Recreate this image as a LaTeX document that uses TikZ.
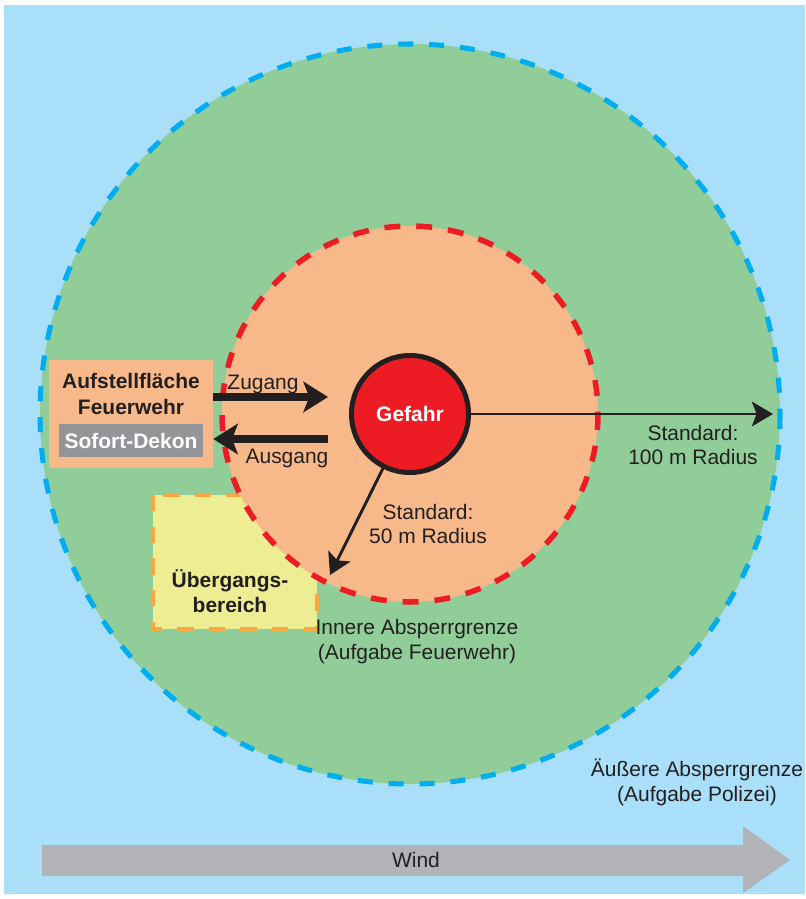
\documentclass[tikz,border=0pt]{standalone}
\usepackage{fontspec}
\setmainfont{Liberation Sans}
\usetikzlibrary{arrows.meta}

\definecolor{skyblue}{RGB}{169,223,249}
\definecolor{zonegreen}{RGB}{145,205,153}
\definecolor{zoneorange}{RGB}{248,185,138}
\definecolor{dangerred}{RGB}{237,28,36}
\definecolor{dashblue}{RGB}{0,174,239}
\definecolor{transyellow}{RGB}{237,237,148}
\definecolor{dashorange}{RGB}{247,169,64}
\definecolor{dekongray}{RGB}{147,149,152}
\definecolor{windgray}{RGB}{177,179,182}
\definecolor{textdark}{RGB}{35,31,32}

\begin{document}
\begin{tikzpicture}[x=0.03cm,y=-0.03cm]
        \tikzstyle{every node}+=[inner sep=0pt, text=textdark, font=\fontsize{17.9}{21.3}\selectfont]
        \tikzstyle{lbl}=[align=center]
        \tikzstyle{bold}=[font=\fontsize{17.9}{21.8}\selectfont\bfseries]
        \tikzstyle{fatarrow}=[textdark, line width=6.8pt, -{Stealth[length=21pt,width=26pt,inset=5pt]}]
        \tikzstyle{thinarrow}=[textdark, line width=2.5pt, -{Stealth[length=18pt,width=21pt,inset=4pt]}]
        \useasboundingbox (0,0) rectangle (805,899);
        \fill [skyblue] (4,5) rectangle (805,894);
        % zones
        \fill [zonegreen] (410,414) circle (370);
        \draw [dashblue, line width=4.3pt, dash pattern=on 12.8pt off 13.6pt] (410,414) circle (370);
        \draw [dashorange, line width=2.6pt, dash pattern=on 14pt off 13pt, fill=transyellow] (153,495) rectangle (317,629);
        \fill [zoneorange] (410,414) circle (188);
        \draw [dangerred, line width=4.7pt, dash pattern=on 13.6pt off 13.6pt] (410,414) circle (188);
        % Aufstellflaeche
        \node [fill=zoneorange, minimum width=4.92cm, minimum height=3.24cm] (aufstell) at (131,414) {};
        \node [lbl, bold] (aufstelltext) at (131,394) {Aufstellfläche\\Feuerwehr};
        \node [fill=dekongray, bold, text=white, minimum width=4.32cm, minimum height=0.99cm] (dekon) at (131,440.5) {Sofort-Dekon};
        % Gefahr
        \node [circle, draw=textdark, line width=4.25pt, fill=dangerred, minimum size=3.51cm, bold, text=white] (gefahr) at (410,414) {Gefahr};
        \coordinate (r100) at (773,414);
        \coordinate (r50) at (330,575);
        \draw [thinarrow] (gefahr) -- (r100);
        \draw [thinarrow] (gefahr) -- (r50);
        \coordinate (zugangend) at (328,397);
        \coordinate (ausgangstart) at (328,439);
        \draw [fatarrow] (aufstell.east |- zugangend) -- (zugangend);
        \draw [fatarrow] (ausgangstart) -- (aufstell.east |- ausgangstart);
        \node [anchor=base] (zugang) at (263,389) {Zugang};
        \node [anchor=base] (ausgang) at (287,463) {Ausgang};
        % labels
        \node [lbl] (std100) at (693,445) {Standard:\\100 m Radius};
        \node [lbl] (std50) at (428,524) {Standard:\\50 m Radius};
        \node [lbl, bold] (uebergang) at (230,591) {Übergangs-\\bereich};
        \node [lbl] (innere) at (417,641.5) {Innere Absperrgrenze\\(Aufgabe Feuerwehr)};
        \node [lbl] (aeussere) at (697,782) {Äußere Absperrgrenze\\(Aufgabe Polizei)};
        % wind
        \fill [windgray] (42,845) -- (743,845) -- (743,826) -- (790,860) -- (743,893) -- (743,876) -- (42,876) -- cycle;
        \node (wind) at (416,860) {Wind};
\end{tikzpicture}
\end{document}
